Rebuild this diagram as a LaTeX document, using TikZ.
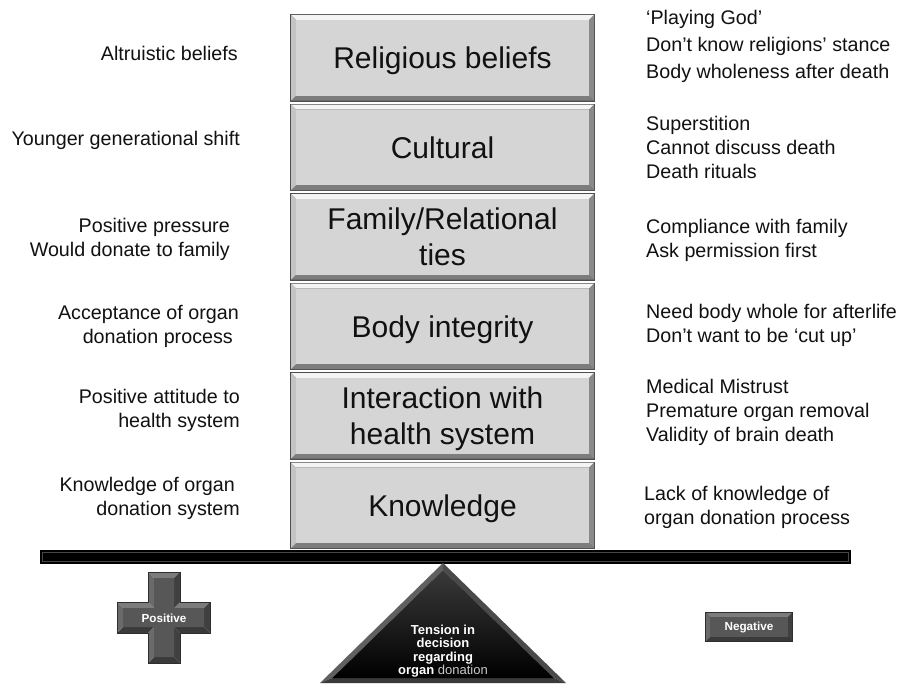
\documentclass[tikz,border=0pt]{standalone}
\usepackage{fontspec}
\setmainfont{Liberation Sans}
\definecolor{boxE}{HTML}{4D4D4D}
\definecolor{boxT}{HTML}{F4F4F4}
\definecolor{boxL}{HTML}{C4C4C4}
\definecolor{boxR}{HTML}{8A8A8A}
\definecolor{boxB}{HTML}{7D7D7D}
\definecolor{boxF}{HTML}{D5D5D5}
\definecolor{negE}{HTML}{2E2E2E}
\definecolor{negT}{HTML}{7C7C7C}
\definecolor{negL}{HTML}{6A6A6A}
\definecolor{negR}{HTML}{404040}
\definecolor{negB}{HTML}{3A3A3A}
\definecolor{negF}{HTML}{575757}
\definecolor{crsT}{HTML}{7C7C7C}
\definecolor{crsL}{HTML}{6A6A6A}
\definecolor{crsR}{HTML}{404040}
\definecolor{crsB}{HTML}{3A3A3A}
\definecolor{crsF}{HTML}{575757}
\definecolor{crsE}{HTML}{2E2E2E}
\definecolor{triL}{HTML}{606060}
\definecolor{triR}{HTML}{4A4A4A}
\definecolor{triB}{HTML}{3A3A3A}
\definecolor{txt}{HTML}{111111}
\definecolor{dontxt}{HTML}{C8C8C8}
\newcommand{\bevrect}[6]{%
 \fill[#6E] (#1,-#2) rectangle (#3,-#4);
 \fill[#6T] (#1+1,-#2-1) -- (#3-1,-#2-1) -- (#3-1-#5,-#2-1-#5) -- (#1+1+#5,-#2-1-#5) -- cycle;
 \fill[#6B] (#1+1,-#4+1) -- (#3-1,-#4+1) -- (#3-1-#5,-#4+1+#5) -- (#1+1+#5,-#4+1+#5) -- cycle;
 \fill[#6L] (#1+1,-#2-1) -- (#1+1+#5,-#2-1-#5) -- (#1+1+#5,-#4+1+#5) -- (#1+1,-#4+1) -- cycle;
 \fill[#6R] (#3-1,-#2-1) -- (#3-1-#5,-#2-1-#5) -- (#3-1-#5,-#4+1+#5) -- (#3-1,-#4+1) -- cycle;
 \fill[#6F] (#1+1+#5,-#2-1-#5) rectangle (#3-1-#5,-#4+1+#5);
}
\tikzset{
 boxlabel/.style={inner sep=0pt, align=center, text=txt, font=\fontsize{30}{36}\selectfont},
 sidel/.style={inner sep=0pt, anchor=east, align=right, text=txt, font=\fontsize{19.7}{24}\selectfont},
 sider/.style={inner sep=0pt, anchor=west, align=left, text=txt, font=\fontsize{19.7}{24}\selectfont},
 badge/.style={inner sep=0pt, text=white, font=\fontsize{11.7}{14}\selectfont\bfseries},
 tritext/.style={inner sep=0pt, align=center, text=white, font=\fontsize{13}{13.5}\selectfont\bfseries},
 barline/.style={draw={rgb,255:red,70;green,70;blue,70}, line width=0.8pt}
}
\begin{document}
\begin{tikzpicture}[x=1pt,y=1pt]
\useasboundingbox (0,0) rectangle (905,-685);
\fill[white] (0,0) rectangle (905,-685);

% stacked factor boxes
\bevrect{290}{14}{595}{101.5}{5}{box}
\bevrect{290}{103.5}{595}{191}{5}{box}
\bevrect{290}{193}{595}{280.5}{5}{box}
\bevrect{290}{282.5}{595}{370}{5}{box}
\bevrect{290}{372}{595}{459.5}{5}{box}
\bevrect{290}{461.5}{595}{549}{5}{box}

\node[boxlabel] (religious) at (442.5,-61.2) {Religious beliefs};
\node[boxlabel] (cultural) at (442.5,-147.5) {Cultural};
\node[boxlabel] (family) at (442.5,-236.8) {Family/Relational\\ties};
\node[boxlabel] (body) at (442.5,-329.6) {Body integrity};
\node[boxlabel] (interaction) at (442.5,-419.2) {Interaction with\\health system};
\node[boxlabel] (knowledge) at (442.5,-508.6) {Knowledge};

% balance bar
\fill[black] (40,-550) rectangle (851,-563.5);
\draw[barline] (42.5,-552.5) rectangle (848.5,-561);

% fulcrum triangle
\coordinate (tA) at (443,-563);
\coordinate (tBL) at (320,-683);
\coordinate (tBR) at (566,-683);
\coordinate (ta) at (443,-570);
\coordinate (tbl) at (332.3,-678);
\coordinate (tbr) at (553.7,-678);
\fill[triL] (tA) -- (tBL) -- (tbl) -- (ta) -- cycle;
\fill[triR] (tA) -- (tBR) -- (tbr) -- (ta) -- cycle;
\fill[triB] (tBL) -- (tBR) -- (tbr) -- (tbl) -- cycle;
\shade[top color={rgb,255:red,58;green,58;blue,58}, bottom color=black] (ta) -- (tbl) -- (tbr) -- cycle;
\node[tritext] (tension) at (443,-651) {Tension in\\decision\\regarding\\organ {\mdseries\color{dontxt}donation}};

% plus sign
\coordinate (p1) at (148,-572);  \coordinate (w1) at (154,-578);
\coordinate (p2) at (180,-572);  \coordinate (w2) at (174,-578);
\coordinate (p3) at (180,-602);  \coordinate (w3) at (174,-608);
\coordinate (p4) at (210,-602);  \coordinate (w4) at (204,-608);
\coordinate (p5) at (210,-633);  \coordinate (w5) at (204,-627);
\coordinate (p6) at (180,-633);  \coordinate (w6) at (174,-627);
\coordinate (p7) at (180,-663);  \coordinate (w7) at (174,-657);
\coordinate (p8) at (148,-663);  \coordinate (w8) at (154,-657);
\coordinate (p9) at (148,-633);  \coordinate (w9) at (154,-627);
\coordinate (p10) at (117,-633); \coordinate (w10) at (123,-627);
\coordinate (p11) at (117,-602); \coordinate (w11) at (123,-608);
\coordinate (p12) at (148,-602); \coordinate (w12) at (154,-608);
\fill[crsT] (p1) -- (p2) -- (w2) -- (w1) -- cycle;
\fill[crsT] (p3) -- (p4) -- (w4) -- (w3) -- cycle;
\fill[crsT] (p11) -- (p12) -- (w12) -- (w11) -- cycle;
\fill[crsR] (p2) -- (p3) -- (w3) -- (w2) -- cycle;
\fill[crsR] (p4) -- (p5) -- (w5) -- (w4) -- cycle;
\fill[crsR] (p6) -- (p7) -- (w7) -- (w6) -- cycle;
\fill[crsB] (p5) -- (p6) -- (w6) -- (w5) -- cycle;
\fill[crsB] (p7) -- (p8) -- (w8) -- (w7) -- cycle;
\fill[crsB] (p9) -- (p10) -- (w10) -- (w9) -- cycle;
\fill[crsL] (p8) -- (p9) -- (w9) -- (w8) -- cycle;
\fill[crsL] (p10) -- (p11) -- (w11) -- (w10) -- cycle;
\fill[crsL] (p12) -- (p1) -- (w1) -- (w12) -- cycle;
\fill[crsF] (w1) -- (w2) -- (w3) -- (w4) -- (w5) -- (w6) -- (w7) -- (w8) -- (w9) -- (w10) -- (w11) -- (w12) -- cycle;
\draw[crsE, line width=0.8pt] (p1) -- (p2) -- (p3) -- (p4) -- (p5) -- (p6) -- (p7) -- (p8) -- (p9) -- (p10) -- (p11) -- (p12) -- cycle;
\node[badge] (positive) at (164,-618) {Positive};

% negative badge
\bevrect{705}{612}{793}{642}{4}{neg}
\node[badge] (negative) at (749,-627) {Negative};

% left-hand (positive) factors
\node[sidel] (l1) at (238,-53) {Altruistic beliefs};
\node[sidel] (l2) at (240,-140) {Younger generational shift};
\node[sidel] (l3) at (230,-239.5) {Positive pressure\\Would donate to family};
\node[sidel] (l4) at (239,-326) {Acceptance of organ\\donation process\hspace*{6pt}};
\node[sidel] (l5) at (240,-410) {Positive attitude to\\health system};
\node[sidel] (l6) at (240,-498.5) {Knowledge of organ\hspace*{5pt}\\donation system};

% right-hand (negative) factors
\node[sider, font=\fontsize{19.7}{27.3}\selectfont] (r1) at (646,-46.5) {‘Playing God’\\Don’t know religions’ stance\\Body wholeness after death};
\node[sider] (r2) at (646,-147) {Superstition\\Cannot discuss death\\Death rituals};
\node[sider] (r3) at (646,-240.5) {Compliance with family\\Ask permission first};
\node[sider] (r4) at (646,-325) {Need body whole for afterlife\\Don’t want to be ‘cut up’};
\node[sider] (r5) at (646,-412.5) {Medical Mistrust\\Premature organ removal\\Validity of brain death};
\node[sider] (r6) at (644,-507.5) {Lack of knowledge of\\organ donation process};
\end{tikzpicture}
\end{document}
